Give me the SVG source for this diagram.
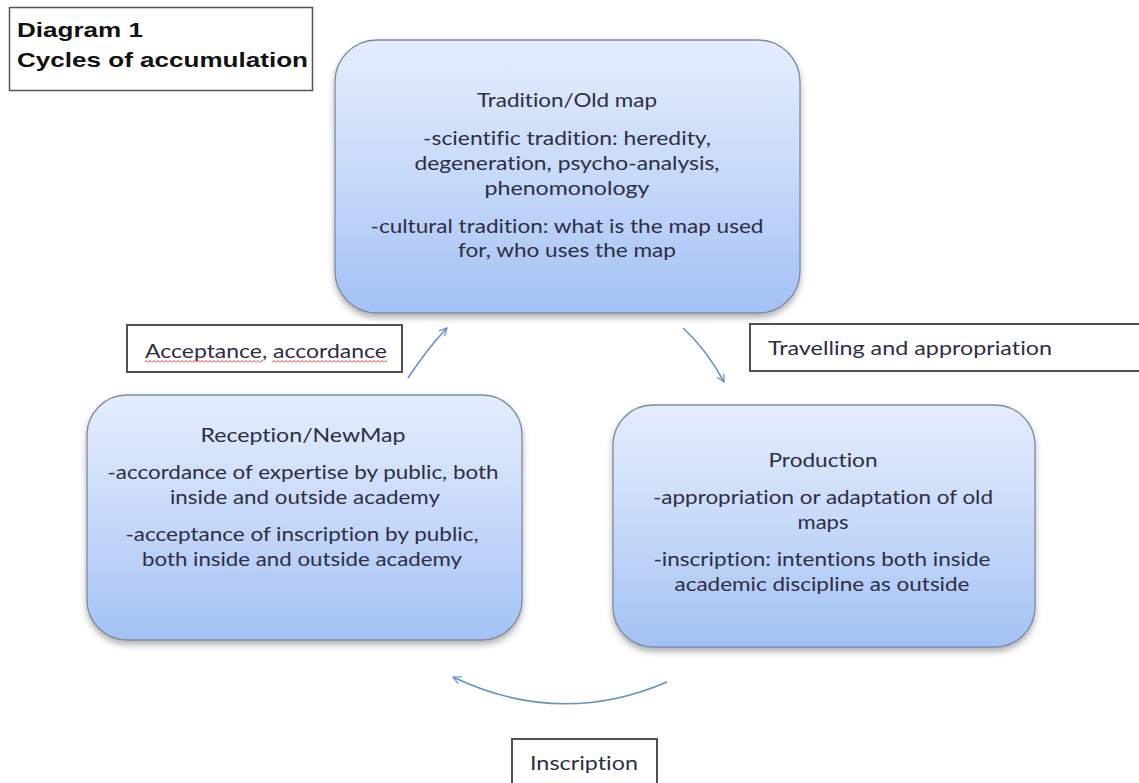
<svg xmlns="http://www.w3.org/2000/svg" width="1139" height="783" viewBox="0 0 1139 783">
<style>
.node{fill:url(#g);stroke:#7d8ca3;stroke-width:1.3;filter:url(#sh)}
.nt{font-family:Lato,"Open Sans","Liberation Sans",sans-serif;font-size:20px;fill:#2e2e44;text-anchor:middle;font-variant-ligatures:none}
.lt{font-family:Lato,"Open Sans","Liberation Sans",sans-serif;font-size:20px;fill:#2e2e44;font-variant-ligatures:none}
.lbox{fill:#fff;stroke:#505050;stroke-width:2}
.title{font-family:"Liberation Sans",Arial,sans-serif;font-weight:bold;font-size:20.5px;fill:#111}
.arr{fill:none;stroke:#6491c9;stroke-width:1.6;marker-end:url(#ah)}
</style>
<defs>
<linearGradient id="g" x1="0" y1="0" x2="0" y2="1">
<stop offset="0" stop-color="#e4edfc"/>
<stop offset="0.5" stop-color="#c7d9f9"/>
<stop offset="1" stop-color="#a3c1f4"/>
</linearGradient>
<filter id="sh" x="-10%" y="-10%" width="120%" height="125%">
<feDropShadow dx="0" dy="4" stdDeviation="3" flood-color="#555" flood-opacity="0.45"/>
</filter>
<marker id="ah" viewBox="0 0 12 12" refX="11" refY="6" markerWidth="9" markerHeight="9" markerUnits="userSpaceOnUse" orient="auto">
<path d="M1,1 L11,6 L1,11" fill="none" stroke="#6491c9" stroke-width="1.6"/>
</marker>
<pattern id="wavy" x="0" y="0" width="4" height="3" patternUnits="userSpaceOnUse">
<path d="M0,2.5 L2,0.5 L4,2.5" fill="none" stroke="#e02020" stroke-width="0.9"/>
</pattern>
</defs>
<rect width="1139" height="783" fill="#fff"/>

<g id="title">
<rect x="9.5" y="7.5" width="303" height="83" fill="#fff" stroke="#555" stroke-width="1.5"/>
<text class="title" x="17" y="37" textLength="126" lengthAdjust="spacingAndGlyphs">Diagram 1</text>
<text class="title" x="17" y="67" textLength="291" lengthAdjust="spacingAndGlyphs">Cycles of accumulation</text>
</g>

<g id="connectors">
<path class="arr" d="M408,378 Q427,349 447,328"/>
<path class="arr" d="M683,328 Q707,350 724,382"/>
<path class="arr" d="M667,682 Q560,728 453,677"/>
</g>

<g id="node-tradition">
<rect class="node" x="335" y="40" width="465" height="273" rx="42"/>
<text class="nt" x="567" y="107" textLength="180" lengthAdjust="spacingAndGlyphs">Tradition/Old map</text>
<text class="nt" x="567" y="145" textLength="288" lengthAdjust="spacingAndGlyphs">-scientific tradition: heredity,</text>
<text class="nt" x="567" y="170" textLength="305" lengthAdjust="spacingAndGlyphs">degeneration, psycho-analysis,</text>
<text class="nt" x="567" y="195" textLength="165" lengthAdjust="spacingAndGlyphs">phenomonology</text>
<text class="nt" x="567" y="233" textLength="393" lengthAdjust="spacingAndGlyphs">-cultural tradition: what is the map used</text>
<text class="nt" x="567" y="257" textLength="218" lengthAdjust="spacingAndGlyphs">for, who uses the map</text>
</g>

<g id="node-reception">
<rect class="node" x="87" y="395" width="435" height="245" rx="40"/>
<text class="nt" x="303" y="442" textLength="205" lengthAdjust="spacingAndGlyphs">Reception/NewMap</text>
<text class="nt" x="303" y="479" textLength="391" lengthAdjust="spacingAndGlyphs">-accordance of expertise by public, both</text>
<text class="nt" x="305" y="504" textLength="270" lengthAdjust="spacingAndGlyphs">inside and outside academy</text>
<text class="nt" x="302" y="541" textLength="353" lengthAdjust="spacingAndGlyphs">-acceptance of inscription by public,</text>
<text class="nt" x="302" y="566" textLength="320" lengthAdjust="spacingAndGlyphs">both inside and outside academy</text>
</g>

<g id="node-production">
<rect class="node" x="613" y="405" width="422" height="242" rx="40"/>
<text class="nt" x="823" y="467" textLength="109" lengthAdjust="spacingAndGlyphs">Production</text>
<text class="nt" x="823" y="504" textLength="340" lengthAdjust="spacingAndGlyphs">-appropriation or adaptation of old</text>
<text class="nt" x="823" y="529" textLength="51" lengthAdjust="spacingAndGlyphs">maps</text>
<text class="nt" x="822" y="566" textLength="337" lengthAdjust="spacingAndGlyphs">-inscription: intentions both inside</text>
<text class="nt" x="822" y="591" textLength="295" lengthAdjust="spacingAndGlyphs">academic discipline as outside</text>
</g>

<g id="label-acceptance">
<rect class="lbox" x="127" y="325" width="275" height="47"/>
<text class="lt" x="145" y="358" textLength="242" lengthAdjust="spacingAndGlyphs">Acceptance, accordance</text>
<rect x="145" y="360" width="118" height="3" fill="url(#wavy)"/>
<rect x="272" y="360" width="115" height="3" fill="url(#wavy)"/>
</g>

<g id="label-travelling">
<rect class="lbox" x="750" y="324" width="395" height="47"/>
<text class="lt" x="768" y="355" textLength="284" lengthAdjust="spacingAndGlyphs">Travelling and appropriation</text>
</g>

<g id="label-inscription">
<rect class="lbox" x="512" y="739" width="145" height="60"/>
<text class="lt" x="530" y="770" textLength="108" lengthAdjust="spacingAndGlyphs">Inscription</text>
</g>
</svg>
